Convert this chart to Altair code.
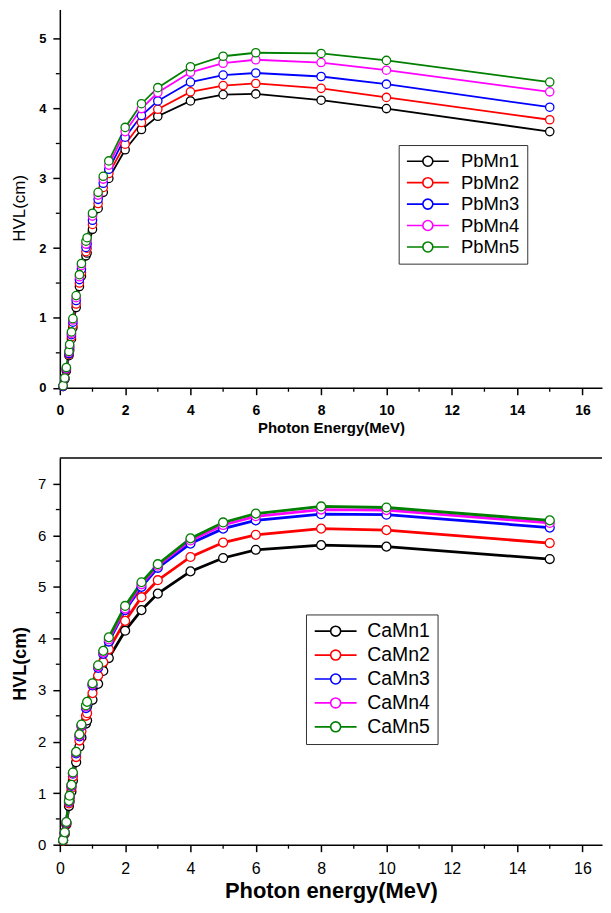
import altair as alt
import pandas as pd

FONT = "Liberation Sans"

energy = [0.1, 0.15, 0.2, 0.279, 0.3, 0.356, 0.4, 0.5, 0.6, 0.662, 0.8, 0.835,
          1.0, 1.173, 1.33, 1.5, 2, 2.5, 3, 4, 5, 6, 8, 10, 15]

pb_names = ["PbMn1", "PbMn2", "PbMn3", "PbMn4", "PbMn5"]
pbmn1 = [0.02, 0.12, 0.24, 0.46, 0.53, 0.70, 0.86, 1.15, 1.45, 1.60, 1.89, 1.93,
         2.27, 2.57, 2.80, 3.00, 3.41, 3.70, 3.89, 4.11, 4.20, 4.21, 4.12, 4.00, 3.67]
pbmn2 = [0.02, 0.13, 0.26, 0.48, 0.56, 0.73, 0.90, 1.20, 1.50, 1.65, 1.95, 2.00,
         2.34, 2.64, 2.87, 3.07, 3.49, 3.80, 3.99, 4.24, 4.33, 4.36, 4.29, 4.16, 3.84]
pbmn3 = [0.02, 0.13, 0.27, 0.49, 0.58, 0.76, 0.94, 1.25, 1.55, 1.70, 2.01, 2.06,
         2.40, 2.70, 2.93, 3.13, 3.59, 3.90, 4.11, 4.38, 4.48, 4.51, 4.46, 4.35, 4.02]
pbmn4 = [0.03, 0.14, 0.28, 0.51, 0.60, 0.78, 0.97, 1.29, 1.59, 1.75, 2.06, 2.11,
         2.46, 2.76, 2.99, 3.19, 3.67, 4.00, 4.23, 4.52, 4.65, 4.70, 4.66, 4.55, 4.24]
pbmn5 = [0.03, 0.14, 0.29, 0.52, 0.62, 0.80, 0.99, 1.32, 1.62, 1.78, 2.10, 2.15,
         2.50, 2.80, 3.03, 3.25, 3.73, 4.07, 4.30, 4.60, 4.75, 4.80, 4.79, 4.69, 4.38]

ca_names = ["CaMn1", "CaMn2", "CaMn3", "CaMn4", "CaMn5"]
camn1 = [0.08, 0.21, 0.39, 0.75, 0.84, 1.03, 1.24, 1.60, 1.90, 2.08, 2.35, 2.41,
         2.81, 3.12, 3.37, 3.62, 4.15, 4.55, 4.87, 5.30, 5.56, 5.72, 5.81, 5.78, 5.54]
camn2 = [0.08, 0.22, 0.41, 0.80, 0.90, 1.10, 1.32, 1.70, 2.02, 2.20, 2.50, 2.55,
         2.94, 3.28, 3.54, 3.79, 4.34, 4.80, 5.13, 5.58, 5.86, 6.01, 6.13, 6.10, 5.85]
camn3 = [0.09, 0.23, 0.43, 0.83, 0.93, 1.14, 1.38, 1.77, 2.10, 2.30, 2.65, 2.72,
         3.09, 3.43, 3.70, 3.94, 4.55, 5.00, 5.37, 5.84, 6.13, 6.29, 6.41, 6.40, 6.15]
camn4 = [0.09, 0.24, 0.44, 0.84, 0.94, 1.15, 1.39, 1.79, 2.12, 2.31, 2.68, 2.75,
         3.11, 3.46, 3.73, 3.98, 4.58, 5.05, 5.41, 5.90, 6.20, 6.37, 6.50, 6.49, 6.24]
camn5 = [0.09, 0.24, 0.44, 0.85, 0.95, 1.16, 1.40, 1.80, 2.14, 2.33, 2.70, 2.77,
         3.13, 3.48, 3.76, 4.02, 4.63, 5.09, 5.44, 5.94, 6.25, 6.42, 6.56, 6.54, 6.29]

colors = ["#000000", "#FF0000", "#0000FF", "#FF00FF", "#008000"]

x_ticks = [0, 2, 4, 6, 8, 10, 12, 14, 16]
x_minor = [1, 3, 5, 7, 9, 11, 13, 15]
pb_y_ticks = [0, 1, 2, 3, 4, 5]
pb_y_minor = [0.5, 1.5, 2.5, 3.5, 4.5]
ca_y_ticks = [0, 1, 2, 3, 4, 5, 6, 7]
ca_y_minor = [0.5, 1.5, 2.5, 3.5, 4.5, 5.5, 6.5]

LEG_SYMBOL = "M-4.2,0L-1,0M1,0L4.2,0M1,0A1,1,0,1,1,-1,0A1,1,0,1,1,1,0"


def long_df(names, series):
    rows = []
    for i, (n, s) in enumerate(zip(names, series)):
        for e, v in zip(energy, s):
            rows.append({"E": e, "HVL": v, "series": n, "k": i})
    return pd.DataFrame(rows)


def panel(df, names, W, H, ydom, yticks, yminor, xl_size, xl_weight, xtitle,
          xt_size, xt_y, yl_size, yl_weight, ytitle, yt_size, yt_weight, yt_x, yt_y,
          line_w, pt_size, lx, ly, leg_font, leg_rowpad, lab_off, frame_top):
    xscale = alt.Scale(domain=[0, 16.6], nice=False, zero=False)
    yscale = alt.Scale(domain=ydom, nice=False, zero=False)
    xaxis = alt.Axis(values=x_ticks, tickSize=7, tickWidth=1.5, domainWidth=1.5,
                     domainColor="black", tickColor="black", labelPadding=9,
                     labelFont=FONT, labelFontSize=xl_size, labelFontWeight=xl_weight,
                     labelColor="black", title=xtitle, titleFont=FONT,
                     titleFontSize=xt_size, titleFontWeight="bold", titleColor="black",
                     titleY=xt_y, titleBaseline="middle", grid=False, labelFlush=False,
                     format="d")
    yaxis = alt.Axis(values=yticks, tickSize=7, tickWidth=1.5, domainWidth=1.5,
                     domainColor="black", tickColor="black", labelPadding=7,
                     labelFont=FONT, labelFontSize=yl_size, labelFontWeight=yl_weight,
                     labelColor="black", title=ytitle, titleFont=FONT,
                     titleFontSize=yt_size, titleFontWeight=yt_weight, titleColor="black",
                     titleX=yt_x, titleY=yt_y, titleAngle=270, titleAlign="center",
                     titleBaseline="middle", grid=False, labelFlush=False, format="d")
    legend = alt.Legend(title=None, orient="none", legendX=lx, legendY=ly,
                        symbolType=LEG_SYMBOL, symbolSize=100, symbolStrokeWidth=1.6,
                        symbolFillColor="white", symbolOffset=13, labelOffset=lab_off,
                        labelFont=FONT, labelFontSize=leg_font, labelColor="black",
                        rowPadding=leg_rowpad, padding=7, strokeColor="#333333",
                        fillColor="white")
    color = alt.Color("series:N", scale=alt.Scale(domain=names, range=colors),
                      legend=legend)
    base = alt.Chart(df)
    lines = base.mark_line(strokeWidth=line_w).encode(
        x=alt.X("E:Q", scale=xscale, axis=xaxis),
        y=alt.Y("HVL:Q", scale=yscale, axis=yaxis),
        color=color,
    )
    points = base.mark_point(filled=False, fill="white", size=pt_size,
                             strokeWidth=1.3, opacity=1).encode(
        x=alt.X("E:Q", scale=xscale, axis=xaxis),
        y=alt.Y("HVL:Q", scale=yscale, axis=yaxis),
        color=color,
        order=alt.Order("k:Q"),
    )
    ymin = alt.Chart(pd.DataFrame({"v": yminor})).mark_rule(
        color="black", strokeWidth=1.3).encode(
        y=alt.Y("v:Q", scale=yscale, axis=yaxis),
        x=alt.value(0), x2=alt.value(-4))
    xmin = alt.Chart(pd.DataFrame({"v": x_minor})).mark_rule(
        color="black", strokeWidth=1.3).encode(
        x=alt.X("v:Q", scale=xscale, axis=xaxis),
        y=alt.value(H), y2=alt.value(H + 4))
    layers = [lines, points, ymin, xmin]
    if frame_top:
        top = alt.Chart(pd.DataFrame({"v": [ydom[1]]})).mark_rule(
            color="black", strokeWidth=1.5).encode(
            y=alt.Y("v:Q", scale=yscale, axis=yaxis),
            x=alt.value(0), x2=alt.value(W))
        layers.append(top)
    return alt.layer(*layers).properties(width=W, height=H)


W = 544
H1 = 379.5
H2 = 388

pb_df = long_df(pb_names, [pbmn1, pbmn2, pbmn3, pbmn4, pbmn5])
ca_df = long_df(ca_names, [camn1, camn2, camn3, camn4, camn5])

top = panel(pb_df, pb_names, W, H1, [0, 5.42], pb_y_ticks, pb_y_minor,
            14, "bold", "Photon Energy(MeV)", 15, 40,
            13, "bold", "HVL(cm)", 17, "normal", -40, 199,
            1.8, 70, 340, 136, 18.5, 2.5, 24, False)
bottom = panel(ca_df, ca_names, W, H2, [0, 7.5], ca_y_ticks, ca_y_minor,
               16, "normal", "Photon energy(MeV)", 22, 46,
               15, "normal", "HVL(cm)", 18, "bold", -39, 206,
               2.8, 80, 247, 157, 19.5, 3, 22, True)

chart = alt.vconcat(top, bottom, spacing=21).resolve_scale(
    color="independent").resolve_legend(color="independent").properties(
    padding={"left": 3, "top": 0, "right": 0, "bottom": 0}
).configure(font=FONT).configure_view(stroke=None)

chart.save("out.html", embed_options={"renderer": "svg", "actions": False})
